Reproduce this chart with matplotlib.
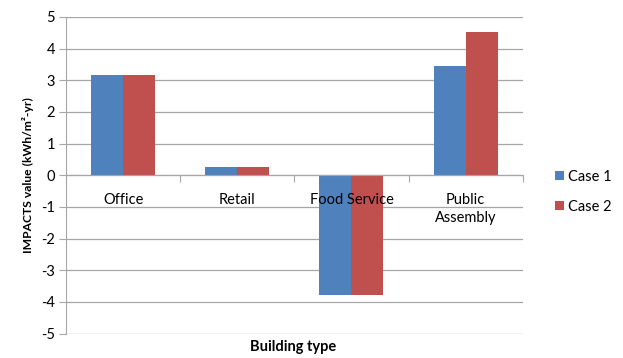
import numpy as np
import matplotlib
matplotlib.use("Agg")
import matplotlib.pyplot as plt
from matplotlib.ticker import FixedLocator, NullFormatter

plt.rcParams["font.family"] = ["Lato", "DejaVu Sans"]

building_types = ["Office", "Retail", "Food Service", "Public\nAssembly"]
case1 = [3.15, 0.25, -3.78, 3.44]
case2 = [3.15, 0.25, -3.78, 4.52]
series_names = ["Case 1", "Case 2"]
y_ticks = [5, 4, 3, 2, 1, 0, -1, -2, -3, -4, -5]

BLUE = "#4F81BD"
RED = "#C0504D"
GRID = "#A6A6A6"

fig = plt.figure(figsize=(6.23, 3.58), dpi=100)
ax = fig.add_axes([0.106, 0.068, 0.733, 0.885])

# gridlines behind the bars, axis (and its labels) in front
for v in y_ticks:
    ax.axhline(v, color=GRID, lw=0.9, zorder=0)
ax.set_axisbelow(False)

x = np.arange(len(building_types))
w = 0.28
b1 = ax.bar(x - w / 2, case1, w, color=BLUE, label=series_names[0], zorder=2)
b2 = ax.bar(x + w / 2, case2, w, color=RED, label=series_names[1], zorder=2)

ax.set_xlim(-0.5, len(building_types) - 0.5)
ax.set_ylim(-5, 5)
ax.set_yticks(y_ticks)
ax.set_yticklabels([str(v) for v in y_ticks], fontsize=10.5)
ax.tick_params(axis="y", length=5, color=GRID, pad=3)

# category axis sits at zero: boundary ticks as majors, names as minors
ax.spines["bottom"].set_position(("data", 0))
ax.spines["bottom"].set_color(GRID)
ax.spines["left"].set_color(GRID)
ax.spines["top"].set_visible(False)
ax.spines["right"].set_visible(False)
ax.xaxis.set_major_locator(FixedLocator(np.arange(len(building_types) + 1) - 0.5))
ax.xaxis.set_major_formatter(NullFormatter())
ax.xaxis.set_minor_locator(FixedLocator(x))
ax.set_xticklabels(building_types, minor=True, fontsize=10.5, linespacing=1.3, va="top")
ax.tick_params(axis="x", which="major", length=5, color=GRID, direction="out")
ax.tick_params(axis="x", which="minor", length=0, pad=13)

ax.set_ylabel("IMPACTS value (kWh/m²-yr)", fontsize=8.7, fontweight="bold", labelpad=5)
fig.text(0.471, 0.012, "Building type", ha="center", va="bottom", fontsize=10.5, fontweight="bold")

fig.legend(handles=[b1, b2], loc="center left", bbox_to_anchor=(0.87, 0.465),
           frameon=False, fontsize=10.5, handlelength=0.6, handleheight=0.6,
           handletextpad=0.3, labelspacing=1.1)

fig.savefig("out.png", dpi=100)
